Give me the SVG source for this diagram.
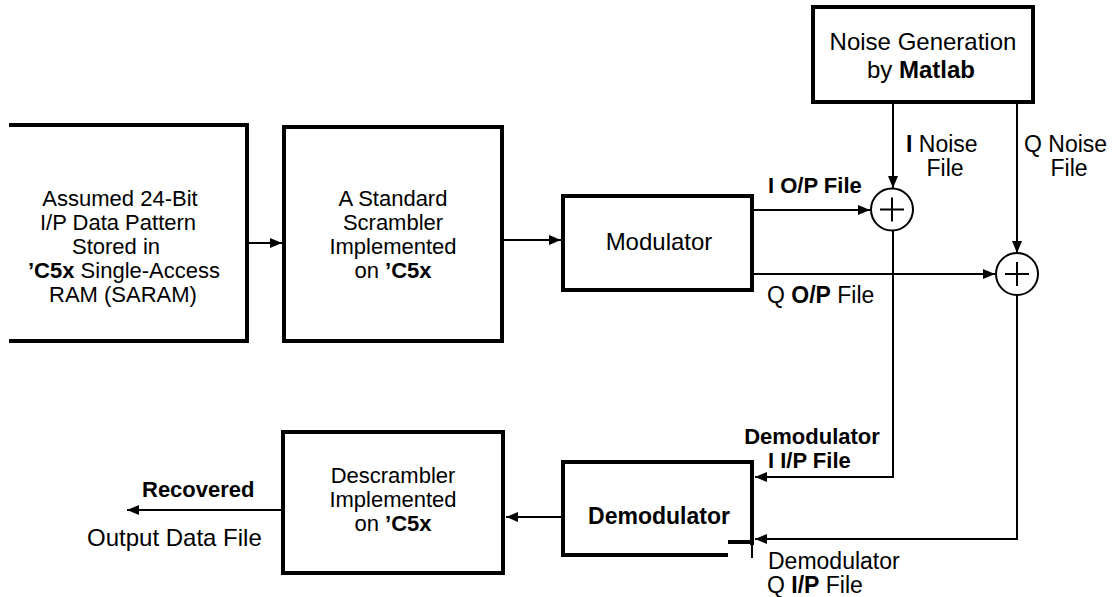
<svg xmlns="http://www.w3.org/2000/svg" width="1119" height="597" viewBox="0 0 1119 597">
<style>
text{font-family:"Liberation Sans",Arial,sans-serif;font-size:22px;fill:#000}
.b{font-weight:bold}
.bl{font-weight:bold;font-size:22px}
.m{text-anchor:middle}
.box{fill:none;stroke:#000;stroke-width:4}
.c{fill:none;stroke:#000;stroke-width:2}
</style>
<defs>
<marker id="ah" viewBox="0 0 12 10" refX="12" refY="5" markerWidth="12" markerHeight="10" markerUnits="userSpaceOnUse" orient="auto">
<path d="M0,0 L12,5 L0,10 z" fill="#000"/>
</marker>
</defs>
<rect width="1119" height="597" fill="#fff"/>

<g id="input">
<path class="box" d="M9,125 H247 V341 H9"/>
<text class="m" x="120" y="206">Assumed 24-Bit</text>
<text class="m" x="118" y="230">I/P Data Pattern</text>
<text class="m" x="116" y="254">Stored in</text>
<text class="m" x="124" y="278"><tspan class="b">’C5x</tspan> Single-Access</text>
<text class="m" x="123" y="302">RAM (SARAM)</text>
</g>

<g id="scrambler">
<rect class="box" x="284" y="127" width="218" height="214"/>
<text class="m" x="393" y="206">A Standard</text>
<text class="m" x="393" y="230">Scrambler</text>
<text class="m" x="393" y="254">Implemented</text>
<text class="m" x="393" y="278">on <tspan class="b">’C5x</tspan></text>
</g>

<g id="modulator">
<rect class="box" x="563" y="196" width="189" height="94"/>
<text class="m" x="659" y="250" style="font-size:24px">Modulator</text>
</g>

<g id="noise">
<rect class="box" x="813" y="7" width="220" height="95"/>
<text class="m" x="923" y="50" style="font-size:24px">Noise Generation</text>
<text class="m" x="921" y="78" style="font-size:24px">by <tspan class="b">Matlab</tspan></text>
</g>

<g id="sum-i">
<circle class="c" cx="892" cy="209.5" r="21"/>
<path class="c" d="M880,209.5 H904 M892,197.5 V221.5"/>
</g>

<g id="sum-q">
<circle class="c" cx="1017" cy="274" r="21"/>
<path class="c" d="M1005,274 H1029 M1017,262 V286"/>
</g>

<g id="demodulator">
<path class="box" d="M752,545 V462 H563 V555 H728"/>
<path d="M728,542 H752" stroke="#000" stroke-width="4"/>
<path d="M752,545 V558" stroke="#000" stroke-width="2"/>
<text class="m b" x="659" y="524" style="font-size:23px">Demodulator</text>
</g>

<g id="descrambler">
<rect class="box" x="283" y="432" width="220" height="141"/>
<text class="m" x="393" y="483">Descrambler</text>
<text class="m" x="393" y="507">Implemented</text>
<text class="m" x="393" y="531">on <tspan class="b">’C5x</tspan></text>
</g>

<g id="connectors">
<line class="c" x1="249" y1="243" x2="282" y2="243" marker-end="url(#ah)"/>
<line class="c" x1="504" y1="240" x2="561" y2="240" marker-end="url(#ah)"/>
<line class="c" x1="754" y1="210" x2="870" y2="210" marker-end="url(#ah)"/>
<line class="c" x1="754" y1="274" x2="995" y2="274" marker-end="url(#ah)"/>
<line class="c" x1="893" y1="104" x2="893" y2="188" marker-end="url(#ah)"/>
<line class="c" x1="1017" y1="104" x2="1017" y2="253" marker-end="url(#ah)"/>
<polyline class="c" points="893,231 893,477 755,477" marker-end="url(#ah)"/>
<polyline class="c" points="1017,295 1017,539 755,539" marker-end="url(#ah)"/>
<line class="c" x1="563" y1="517" x2="506" y2="517" marker-end="url(#ah)"/>
<line class="c" x1="283" y1="510" x2="127" y2="510" marker-end="url(#ah)"/>
</g>

<g id="labels">
<text x="906" y="152" style="font-size:23px"><tspan class="b">I</tspan> Noise</text>
<text class="m" x="945" y="176" style="font-size:23px">File</text>
<text x="1024" y="152" style="font-size:23px">Q Noise</text>
<text class="m" x="1069" y="176" style="font-size:23px">File</text>
<text class="bl" x="768" y="193">I O/P File</text>
<text x="767" y="303" style="font-size:23px">Q <tspan class="b">O/P</tspan> File</text>
<text class="bl m" x="812" y="444">Demodulator</text>
<text class="bl" x="768" y="468">I I/P File</text>
<text x="768" y="569" style="font-size:23px">Demodulator</text>
<text x="767" y="593" style="font-size:23px">Q <tspan class="b">I/P</tspan> File</text>
<text class="bl" x="142" y="497">Recovered</text>
<text x="87" y="546" style="font-size:24px">Output Data File</text>
</g>
</svg>
